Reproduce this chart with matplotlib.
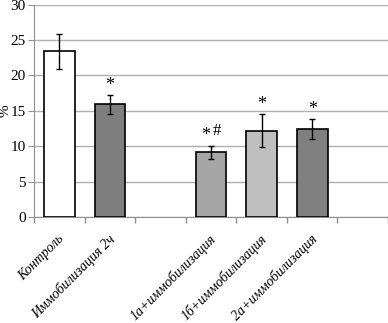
import matplotlib
matplotlib.use("Agg")
import matplotlib.pyplot as plt
import numpy as np

categories = ["Контроль", "Иммобилизация 2ч", "", "1а+иммобилизация", "1б+иммобилизация", "2а+иммобилизация", ""]
values = [23.4, 15.9, None, 9.15, 12.2, 12.45, None]
errors = [2.5, 1.3, None, 0.9, 2.3, 1.4, None]
colors = ["#ffffff", "#7f7f7f", None, "#a6a6a6", "#bfbfbf", "#808080", None]
marks = ["", "*", "", "*#", "*", "*", ""]

plt.rcParams['font.family'] = ['Liberation Serif', 'DejaVu Serif']

fig = plt.figure(figsize=(3.88, 3.23), dpi=100)
ax = fig.add_axes([0.088, 0.328, 0.912, 0.658])

n = len(categories)
x = np.arange(n)
for i in range(n):
    if values[i] is None:
        continue
    ax.bar(x[i], values[i], width=0.61, color=colors[i], edgecolor="black", linewidth=1.2, zorder=3)
    ax.errorbar(x[i], values[i], yerr=errors[i], fmt="none", ecolor="black", elinewidth=1.0, capsize=2.5, capthick=1.0, zorder=4)
    if marks[i]:
        top = values[i] + errors[i]
        if marks[i] == "*#":
            ax.text(x[i] - 0.1, top + 0.2, "*", ha="center", va="bottom", fontsize=13, zorder=5)
            ax.text(x[i] + 0.12, top + 0.9, "#", ha="center", va="bottom", fontsize=12, zorder=5)
        else:
            ax.text(x[i], top + 0.2, "*", ha="center", va="bottom", fontsize=13, zorder=5)

ax.set_xlim(-0.5, n - 0.5)
ax.set_ylim(0, 30)
ax.set_yticks(np.arange(0, 31, 5))
ax.yaxis.grid(True, color="#b0b0b0", linewidth=1.0, zorder=0)
ax.set_axisbelow(True)

ax.set_xticks(x)
ax.set_xticklabels([])
for i in range(n):
    if categories[i]:
        ax.annotate(categories[i], xy=(x[i], 0), xycoords=("data", "axes fraction"),
                    xytext=(-1.5, -11), textcoords="offset points",
                    rotation=45, ha="right", va="top", rotation_mode="anchor",
                    fontsize=10, style="italic", annotation_clip=False)
ax.tick_params(axis="x", which="major", length=0)
ax.set_xticks(np.arange(-0.5, n, 1.0), minor=True)
ax.tick_params(axis="x", which="minor", length=4, color="#909090", width=1)
ax.tick_params(axis="y", length=4, color="#909090", labelsize=11, pad=2)

for s in ["top", "right"]:
    ax.spines[s].set_visible(False)
ax.spines["left"].set_color("#909090")
ax.spines["bottom"].set_color("#909090")

ax.set_ylabel("%", fontsize=11, va="center")
ax.yaxis.set_label_coords(-0.082, 0.5)

fig.savefig("out.png", dpi=100)
